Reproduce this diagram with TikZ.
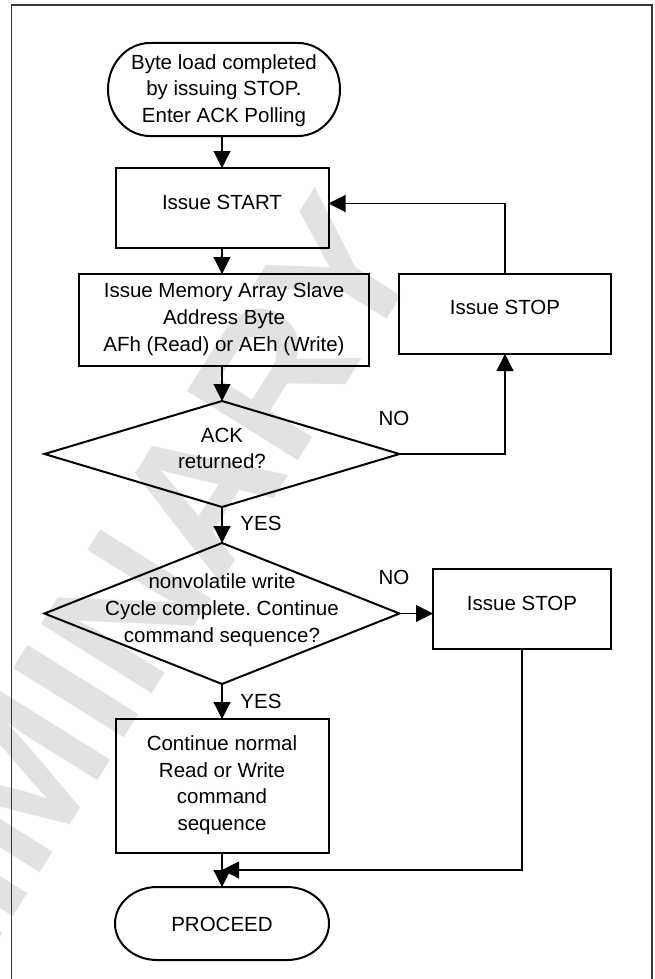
\documentclass[tikz,border=0pt]{standalone}
\usepackage{fontspec}
\setmainfont{Liberation Sans}
\usetikzlibrary{arrows.meta}
\definecolor{wmgray}{RGB}{226,226,229}
\definecolor{framegray}{RGB}{55,55,55}
\frenchspacing
\begin{document}
\begin{tikzpicture}[x=1pt,y=1pt,
  shp/.style={inner sep=0pt,outer sep=0pt,draw=none,rectangle},
  outl/.style={draw=black,line width=2pt},
  txt/.style={inner sep=0pt,outer sep=0pt,align=center,text depth=0pt,font=\fontsize{20.5}{26.6}\selectfont},
  lbl/.style={inner sep=0pt,outer sep=0pt,text depth=0pt,font=\fontsize{20.5}{26.6}\selectfont},
  conn/.style={draw=black,line width=1.1pt,-{Triangle[length=17pt,width=17pt]}},
  frm/.style={draw=framegray,line width=1.6pt}]
\useasboundingbox (0,0) rectangle (654,-979);
% watermark
\node[inner sep=0pt,rotate=58,text=wmgray,font=\bfseries\fontsize{190}{190}\selectfont] (wm) at (27,-771) {PRELIMINARY};
% frame
\draw[frm] (11.5,-995) -- (11.5,-5) -- (652,-5) -- (652,-995);
% shapes
\node[shp,minimum width=232pt,minimum height=93pt] (t1) at (224,-89.5) {};
\draw[outl] ([xshift=42pt]t1.north west) -- ([xshift=-42pt]t1.north east)
  arc[start angle=90,end angle=-90,x radius=42,y radius=46.5]
  -- ([xshift=42pt]t1.south west)
  arc[start angle=270,end angle=90,x radius=42,y radius=46.5] -- cycle;
\node[shp,outl,minimum width=213pt,minimum height=80pt] (start) at (222,-208) {};
\node[shp,outl,minimum width=290pt,minimum height=92pt] (mem) at (224,-320) {};
\node[shp,outl,minimum width=212pt,minimum height=80pt] (stopa) at (505,-314) {};
\node[shp,minimum width=355pt,minimum height=106pt] (ack) at (222,-454) {};
\draw[outl] (ack.north) -- (ack.east) -- (ack.south) -- (ack.west) -- cycle;
\node[shp,minimum width=355pt,minimum height=141pt] (cyc) at (222,-613.5) {};
\draw[outl] (cyc.north) -- (cyc.east) -- (cyc.south) -- (cyc.west) -- cycle;
\node[shp,outl,minimum width=178pt,minimum height=80pt] (stopb) at (522,-609) {};
\node[shp,outl,minimum width=213pt,minimum height=134pt] (cont) at (222,-786) {};
\node[shp,minimum width=214pt,minimum height=73pt] (proc) at (222,-923.5) {};
\draw[outl] ([xshift=42pt]proc.north west) -- ([xshift=-42pt]proc.north east)
  arc[start angle=90,end angle=-90,x radius=42,y radius=36.5]
  -- ([xshift=42pt]proc.south west)
  arc[start angle=270,end angle=90,x radius=42,y radius=36.5] -- cycle;
% texts
\node[txt] (t1t) at (224,-88.5) {Byte load completed\\by issuing STOP.\\Enter ACK Polling};
\node[txt] (startt) at (222,-202) {Issue START};
\node[txt] (memt) at (224,-317) {Issue Memory Array Slave\\Address Byte\\AFh (Read) or AEh (Write)};
\node[txt] (stopat) at (505,-307) {Issue STOP};
\node[txt] (ackt) at (222,-448.5) {ACK\\returned?};
\node[txt] (cyct) at (222,-608) {nonvolatile write\\Cycle complete. Continue\\command sequence?};
\node[txt] (stopbt) at (522,-603) {Issue STOP};
\node[txt] (contt) at (222,-783) {Continue normal\\Read or Write\\command\\sequence};
\node[txt] (proct) at (222,-924) {PROCEED};
\node[lbl] (no1) at (394,-418) {NO};
\node[lbl] (yes1) at (261,-523) {YES};
\node[lbl] (no2) at (394,-577) {NO};
\node[lbl] (yes2) at (261,-701) {YES};
% connectors
\draw[conn] (t1.south -| start.north) -- (start.north);
\draw[conn] (start.south) -- (start.south |- mem.north);
\draw[conn] (ack.north |- mem.south) -- (ack.north);
\draw[conn] (ack.south) -- (cyc.north);
\draw[conn] (cyc.south) -- (cont.north);
\draw[conn] (cont.south) -- (proc.north);
\draw[conn] (ack.east) -| (stopa.south);
\draw[conn] (stopa.north) |- ([yshift=4.5pt]start.east);
\draw[conn] (cyc.east) -- (cyc.east -| stopb.west);
\coordinate (merge) at (222,-870);
\draw[conn] (stopb.south) |- (merge);
\end{tikzpicture}
\end{document}
